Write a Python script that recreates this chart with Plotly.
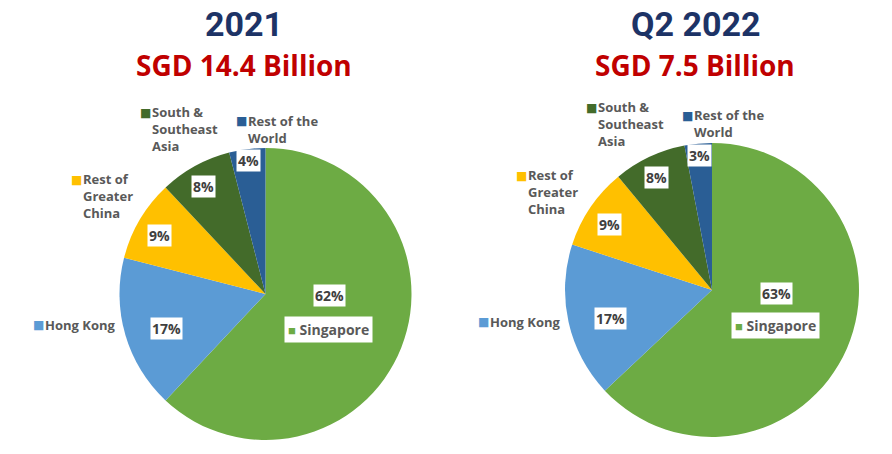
import math
import plotly.graph_objects as go

W, H = 892, 454

regions = ["Singapore", "Hong Kong", "Rest of Greater China", "South & Southeast Asia", "Rest of the World"]
region_labels = ["Singapore", "Hong Kong", "Rest of<br>Greater<br>China", "South &<br>Southeast<br>Asia", "Rest of the<br>World"]
values_2021 = [62, 17, 9, 8, 4]
values_2022 = [63, 17, 9, 8, 3]
titles = ["2021", "Q2 2022"]
subtitles = ["SGD 14.4 Billion", "SGD 7.5 Billion"]

colors = ["#6dab44", "#5b9bd5", "#ffc000", "#436b2a", "#2a5e95"]

# style / layout params (page pixels)
pies = [
    dict(cx=265.5, cy=294, r=146, vals=values_2021, tx=244),
    dict(cx=712, cy=290, r=147, vals=values_2022, tx=695),
]
pct_rf = [0.44, 0.72, 0.83, 0.85, 0.92]
pct_da = [-20, -3, -1.5, -1, 0]
cat_off = {
    "Hong Kong": (-1.605, 0.215),
    "Rest of Greater China": (-1.345, -0.67),
    "South & Southeast Asia": (-0.87, -1.13),
    "Rest of the World": (-0.215, -1.13),
}
sing_off = (0.43, 0.24)

TXT = "#595959"
FONT = "Open Sans"

def px(x):
    return x / W

def py(y):
    return 1 - y / H

fig = go.Figure()
ann = []
for k, p in enumerate(pies):
    cx, cy, r = p["cx"], p["cy"], p["r"]
    fig.add_trace(go.Pie(
        labels=regions, values=p["vals"], sort=False, direction="clockwise", rotation=0,
        marker=dict(colors=colors, line=dict(width=0)),
        textinfo="none", hoverinfo="label+percent", showlegend=False,
        domain=dict(x=[px(cx - r), px(cx + r)], y=[py(cy + r), py(cy - r)]),
    ))
    total = sum(p["vals"])
    cum = 0
    for i, v in enumerate(p["vals"]):
        mid = (cum + v / 2) / total * 360 + pct_da[i]
        cum += v
        a = math.radians(mid)
        lx = cx + pct_rf[i] * r * math.sin(a)
        ly = cy - pct_rf[i] * r * math.cos(a)
        ann.append(dict(x=px(lx), y=py(ly), xref="paper", yref="paper", showarrow=False,
                        text=f"<b>{round(v / total * 100)}%</b>",
                        font=dict(family=FONT, size=14, color="#404040"),
                        bgcolor="white", borderpad=1, xanchor="center", yanchor="middle"))
    for i, name in enumerate(regions):
        if name == "Singapore":
            sx = cx + sing_off[0] * r
            sy = cy + sing_off[1] * r
            ann.append(dict(x=px(sx), y=py(sy), xref="paper", yref="paper", showarrow=False,
                            text=f"<span style='color:{colors[0]};font-size:13px'>■</span> <b>Singapore</b>",
                            font=dict(family=FONT, size=14, color=TXT),
                            bgcolor="white", borderpad=3, xanchor="center", yanchor="middle"))
            continue
        ox, oy = cat_off[name]
        lx = cx + ox * r
        ly = cy + oy * r
        nlines = region_labels[i].count("<br>") + 1
        first_y = ly - (nlines - 1) * 8
        ann.append(dict(x=px(lx), y=py(first_y), xref="paper", yref="paper", showarrow=False,
                        text="■", font=dict(family="DejaVu Sans", size=12, color=colors[i]),
                        xanchor="left", yanchor="middle"))
        ann.append(dict(x=px(lx + 12), y=py(ly), xref="paper", yref="paper", showarrow=False,
                        text=f"<b>{region_labels[i]}</b>", align="left",
                        font=dict(family=FONT, size=13, color=TXT),
                        xanchor="left", yanchor="middle"))
    ann.append(dict(x=px(p["tx"]), y=py(24), xref="paper", yref="paper", showarrow=False,
                    text=f"<b>{titles[k]}</b>", font=dict(family="Roboto", size=34, color="#1d3366"),
                    xanchor="center", yanchor="middle"))
    ann.append(dict(x=px(p["tx"]), y=py(65), xref="paper", yref="paper", showarrow=False,
                    text=f"<b>{subtitles[k]}</b>", font=dict(family=FONT, size=28, color="#c00000"),
                    xanchor="center", yanchor="middle"))

fig.update_layout(
    width=W, height=H, margin=dict(l=0, r=0, t=0, b=0),
    paper_bgcolor="white", plot_bgcolor="white",
    annotations=ann,
)
fig.write_html("out.html", config={"displayModeBar": False},
               post_script="document.body.style.margin='0';document.body.style.overflow='hidden';")
